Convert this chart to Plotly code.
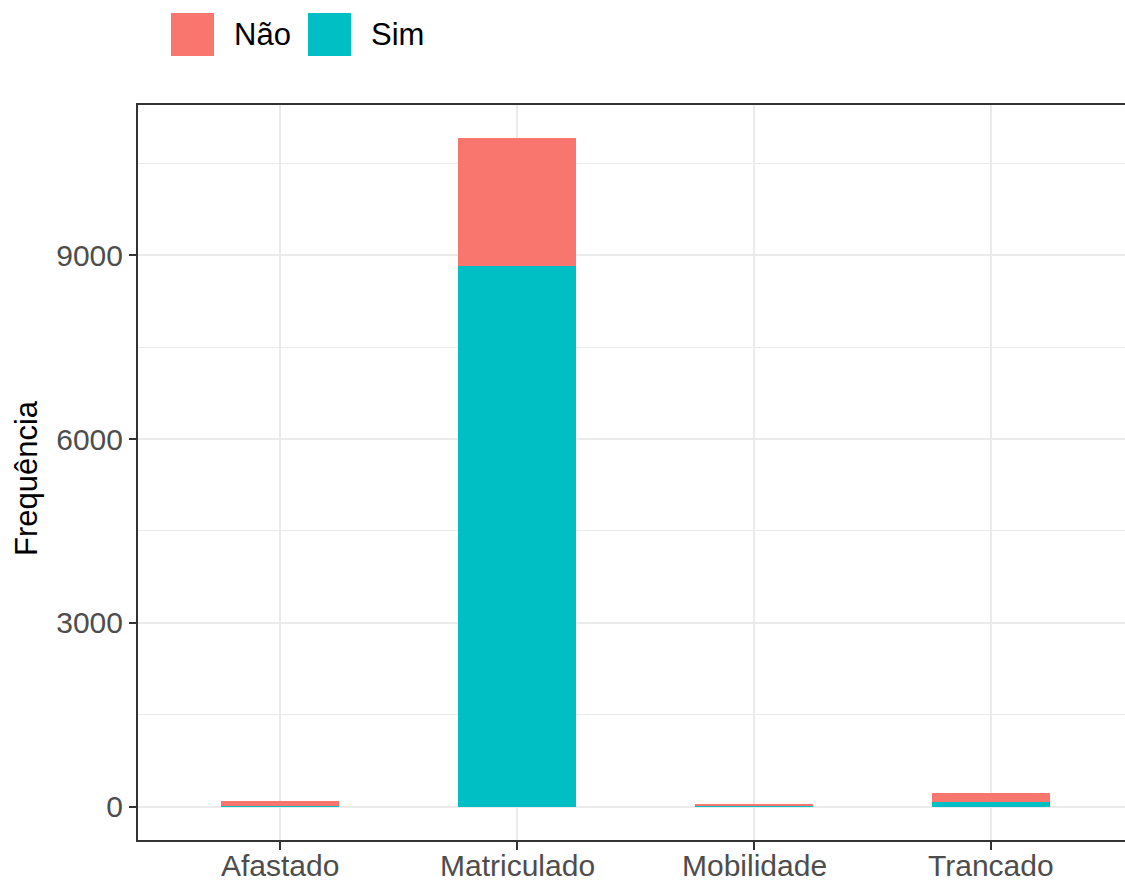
import plotly.graph_objects as go

categories = ["Afastado", "Matriculado", "Mobilidade", "Trancado"]
sim_values = [6, 8826, 24, 82]
nao_values = [82, 2082, 14, 147]
series_names = ["Não", "Sim"]
colors = {"Não": "#F8766D", "Sim": "#00BFC4"}
y_ticks = [0, 3000, 6000, 9000]

W, H = 1125, 884
L, R, T, B = 138, 0, 105, 44
PW, PH = W - L - R, H - T - B


def px(x):
    return (x - L) / PW


def py(y):
    return (H - B - y) / PH


fig = go.Figure()
fig.add_trace(go.Bar(x=categories, y=sim_values, name="Sim", marker_color=colors["Sim"],
                     marker_line_width=0, width=0.5, showlegend=False))
fig.add_trace(go.Bar(x=categories, y=nao_values, name="Não", marker_color=colors["Não"],
                     marker_line_width=0, width=0.5, showlegend=False))

totals = [a + b for a, b in zip(sim_values, nao_values)]
ymax = max(totals)
ymin = 0
span = ymax - ymin

fig.update_layout(
    width=W, height=H,
    margin=dict(l=L, r=R, t=T, b=B, pad=0, autoexpand=False),
    barmode="stack",
    plot_bgcolor="white", paper_bgcolor="white",
    font=dict(family="Liberation Sans, Arial, sans-serif", size=30, color="#4D4D4D"),
    xaxis=dict(
        range=[-0.6, -0.6 + PW / 237.0],
        automargin=False,
        showgrid=True, gridcolor="#EBEBEB", gridwidth=2,
        showline=True, linecolor="#333333", linewidth=2, mirror=True,
        ticks="outside", ticklen=8, tickwidth=2, tickcolor="#333333",
        showticklabels=False,
        zeroline=False,
    ),
    yaxis=dict(
        range=[ymin - 0.05 * span, ymax + 0.05 * span],
        automargin=False,
        tickvals=y_ticks, ticktext=[str(v) for v in y_ticks],
        showgrid=True, gridcolor="#EBEBEB", gridwidth=2,
        minor=dict(dtick=1500, showgrid=True, gridcolor="#EBEBEB", gridwidth=1),
        showline=True, linecolor="#333333", linewidth=2, mirror=False,
        ticks="outside", ticklen=7, tickwidth=2, tickcolor="#333333",
        tickfont=dict(size=30, color="#4D4D4D"),
        zeroline=False,
    ),
    showlegend=False,
)

# x tick labels (placed as annotations so they sit like the reference)
for cat in categories:
    fig.add_annotation(text=cat, xref="x", yref="paper", x=cat, y=py(865),
                       showarrow=False, xanchor="center", yanchor="middle",
                       font=dict(size=30, color="#4D4D4D"))

# y-axis title
fig.add_annotation(text="Frequência", xref="paper", yref="paper",
                   x=px(27), y=py(478), showarrow=False, textangle=-90,
                   font=dict(size=31, color="black"), xanchor="center", yanchor="middle")

# manual legend
legend_items = [("Não", 171, 232), ("Sim", 308, 369)]
for name, sx, tx in legend_items:
    fig.add_shape(type="rect", xref="paper", yref="paper",
                  x0=px(sx), x1=px(sx + 43), y0=py(56), y1=py(13),
                  fillcolor=colors[name], line_width=0)
    fig.add_annotation(text=name, xref="paper", yref="paper", x=px(tx), y=py(35),
                       showarrow=False, xanchor="left", yanchor="middle",
                       font=dict(size=31, color="black"))

fig.write_html(
    "out.html",
    config={"displayModeBar": False},
    post_script="document.body.style.margin='0';document.body.style.padding='0';"
                "document.body.style.overflow='hidden';",
)
